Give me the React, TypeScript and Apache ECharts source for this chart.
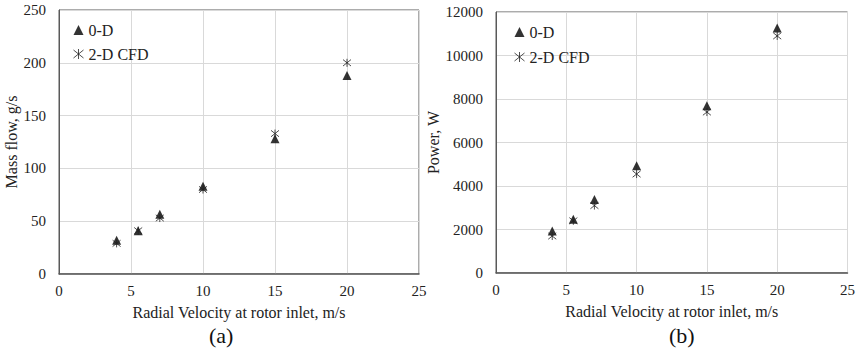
import React, { useEffect, useRef } from "react";
import * as echarts from "echarts";

const velocity = [4, 5.5, 7, 10, 15, 20];
const massFlow0D = [32, 41, 56.5, 83, 128, 188];
const massFlowCFD = [29, 41, 53, 80, 133, 200];
const power0D = [1930, 2470, 3380, 4930, 7690, 11260];
const powerCFD = [1700, 2400, 3100, 4550, 7400, 10900];
const captions = ["(a)", "(b)"];
const seriesNames = ["0-D", "2-D CFD"];

const FONT = "'Liberation Serif', 'Times New Roman', serif";
const STAR = "path://M0,1L10,9M10,1L0,9M5,0L5,10";

function pairs(xs: number[], ys: number[]) {
  return xs.map((x, i) => [x, ys[i]]);
}

export default function App() {
  const ref = useRef<HTMLDivElement>(null);
  useEffect(() => {
    if (!ref.current) return;
    const chart = echarts.init(ref.current, null, { renderer: "svg" });
    const axisLabel = { color: "#222", fontFamily: FONT, fontSize: 15, formatter: (v: number) => String(v) };
    const nameStyle = { color: "#222", fontFamily: FONT, fontSize: 16 };
    const splitLine = { show: true, lineStyle: { color: "#d9d9d9", width: 1 } };
    const xAxisCommon = {
      type: "value" as const,
      min: 0,
      max: 25,
      interval: 5,
      name: "Radial Velocity at rotor inlet, m/s",
      nameLocation: "middle" as const,
      nameGap: 30,
      nameTextStyle: nameStyle,
      axisLine: { show: true, lineStyle: { color: "#595959", width: 1.5 } },
      axisTick: { show: false },
      axisLabel: { ...axisLabel, margin: 9 },
      splitLine,
    };
    const triStyle = { color: "#000" };
    const starStyle = { color: "transparent", borderColor: "#222", borderWidth: 1 };
    const legendText = { fontFamily: FONT, fontSize: 16, color: "#222" };
    chart.setOption({
      animation: false,
      backgroundColor: "#fff",
      grid: [
        { left: 59, top: 10, width: 360, height: 264, show: true, borderColor: "#595959", borderWidth: 1, backgroundColor: "transparent" },
        { left: 496, top: 12, width: 353, height: 261, show: true, borderColor: "#595959", borderWidth: 1, backgroundColor: "transparent" },
      ],
      xAxis: [
        { ...xAxisCommon, gridIndex: 0 },
        { ...xAxisCommon, gridIndex: 1 },
      ],
      yAxis: [
        {
          type: "value", gridIndex: 0, min: 0, max: 250, interval: 50,
          name: "Mass flow, g/s", nameLocation: "middle", nameGap: 39, nameTextStyle: nameStyle,
          axisLine: { show: true, lineStyle: { color: "#595959" } }, axisTick: { show: false },
          axisLabel: { ...axisLabel, margin: 13 }, splitLine,
        },
        {
          type: "value", gridIndex: 1, min: 0, max: 12000, interval: 2000,
          name: "Power, W", nameLocation: "middle", nameGap: 41, nameTextStyle: nameStyle,
          axisLine: { show: true, lineStyle: { color: "#595959" } }, axisTick: { show: false },
          axisLabel: { ...axisLabel, margin: 13 }, splitLine,
        },
      ],
      legend: [
        {
          orient: "vertical", left: 68, top: 17, padding: 5, itemWidth: 10, itemHeight: 10, itemGap: 8,
          textStyle: legendText,
          data: [
            { name: seriesNames[0], icon: "triangle" },
            { name: seriesNames[1], icon: STAR, itemStyle: starStyle },
          ],
        },
        {
          orient: "vertical", left: 509, top: 19, padding: 5, itemWidth: 10, itemHeight: 10, itemGap: 9,
          textStyle: legendText,
          data: [
            { name: seriesNames[0], icon: "triangle" },
            { name: seriesNames[1], icon: STAR, itemStyle: starStyle },
          ],
        },
      ],
      series: [
        { name: seriesNames[0], type: "scatter", xAxisIndex: 0, yAxisIndex: 0, symbol: "triangle", symbolSize: 9, itemStyle: triStyle, data: pairs(velocity, massFlow0D) },
        { name: seriesNames[1], type: "scatter", xAxisIndex: 0, yAxisIndex: 0, symbol: STAR, symbolSize: 8, itemStyle: starStyle, data: pairs(velocity, massFlowCFD) },
        { name: seriesNames[0], type: "scatter", xAxisIndex: 1, yAxisIndex: 1, symbol: "triangle", symbolSize: 9, itemStyle: triStyle, data: pairs(velocity, power0D) },
        { name: seriesNames[1], type: "scatter", xAxisIndex: 1, yAxisIndex: 1, symbol: STAR, symbolSize: 8, itemStyle: starStyle, data: pairs(velocity, powerCFD) },
      ],
      graphic: [
        { type: "text", left: 209, top: 324, style: { text: captions[0], font: `22px ${FONT}`, fill: "#111" } },
        { type: "text", left: 669, top: 324, style: { text: captions[1], font: `22px ${FONT}`, fill: "#111" } },
      ],
    });
    return () => chart.dispose();
  }, []);
  return (
    <div
      ref={ref}
      style={{ position: "fixed", left: 0, top: 0, width: 858, height: 351 }}
    />
  );
}
